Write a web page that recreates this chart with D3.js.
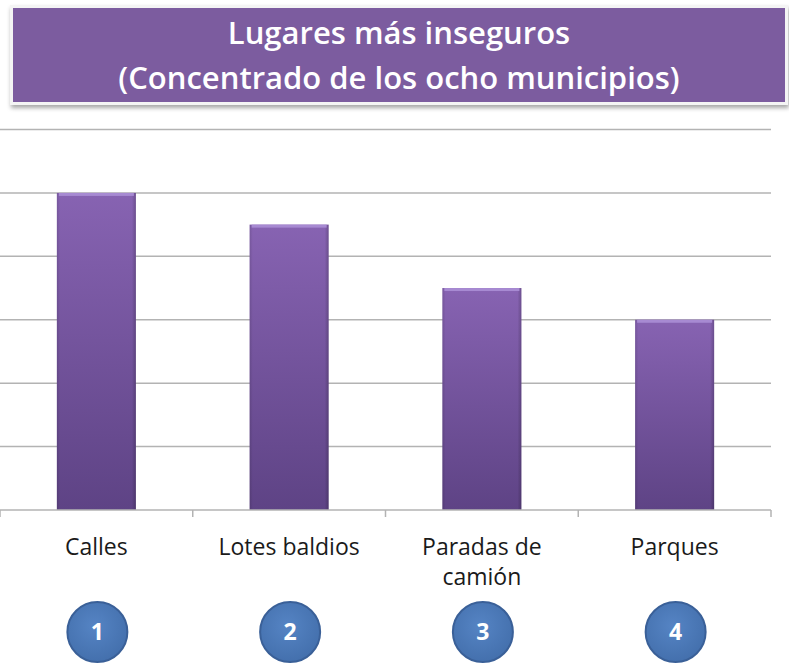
<!DOCTYPE html>
<html>
<head>
<meta charset="utf-8">
<script src="https://cdn.jsdelivr.net/npm/d3@7"></script>
<style>
  body { margin: 0; background: #fff; }
  svg { display: block; }
</style>
</head>
<body>
<div id="chart"></div>
<script>
var categories = [["Calles"], ["Lotes baldios"], ["Paradas de", "camión"], ["Parques"]];
var values = [5, 4.5, 3.5, 3];
var badges = ["1", "2", "3", "4"];
var yTicks = [0, 1, 2, 3, 4, 5, 6];
var titleLines = ["Lugares más inseguros", "(Concentrado de los ocho municipios)"];

var width = 789, height = 665;
var svg = d3.select('#chart').append('svg')
            .attr('width', width).attr('height', height);

var defs = svg.append('defs');
var barGrad = defs.append('linearGradient').attr('id', 'barGrad')
                  .attr('x1', 0).attr('y1', 0).attr('x2', 0).attr('y2', 1);
barGrad.append('stop').attr('offset', '0%').attr('stop-color', '#8763b2');
barGrad.append('stop').attr('offset', '100%').attr('stop-color', '#5e4385');

var edgeGrad = defs.append('linearGradient').attr('id', 'edgeGrad')
                   .attr('x1', 0).attr('y1', 0).attr('x2', 1).attr('y2', 0);
edgeGrad.append('stop').attr('offset', '0%').attr('stop-color', '#000').attr('stop-opacity', 0.12);
edgeGrad.append('stop').attr('offset', '4%').attr('stop-color', '#000').attr('stop-opacity', 0);
edgeGrad.append('stop').attr('offset', '95%').attr('stop-color', '#000').attr('stop-opacity', 0);
edgeGrad.append('stop').attr('offset', '100%').attr('stop-color', '#000').attr('stop-opacity', 0.2);

var circGrad = defs.append('radialGradient').attr('id', 'circGrad')
                   .attr('cx', '45%').attr('cy', '40%').attr('r', '60%');
circGrad.append('stop').attr('offset', '0%').attr('stop-color', '#5584c4');
circGrad.append('stop').attr('offset', '100%').attr('stop-color', '#4470ad');

var shadow = defs.append('filter').attr('id', 'shadow')
                 .attr('x', '-5%').attr('y', '-10%').attr('width', '110%').attr('height', '130%');
shadow.append('feDropShadow').attr('dx', 1).attr('dy', 3).attr('stdDeviation', 2)
      .attr('flood-color', '#000').attr('flood-opacity', 0.35);

// title box
var box = svg.append('g');
box.append('rect')
   .attr('x', 10).attr('y', 5).attr('width', 778).attr('height', 100)
   .attr('fill', '#f4f4f4').attr('filter', 'url(#shadow)');
box.append('rect')
   .attr('x', 13).attr('y', 8).attr('width', 772).attr('height', 94)
   .attr('fill', '#7c5c9f');
box.selectAll('text.title').data(titleLines).enter().append('text')
   .attr('class', 'title')
   .attr('x', 399)
   .attr('y', (d, i) => 44 + i * 45)
   .attr('text-anchor', 'middle')
   .style('font-family', '"Open Sans", sans-serif')
   .style('font-weight', 600)
   .style('font-size', '31px')
   .style('fill', '#fff')
   .text(d => d);

// chart
var x = d3.scaleBand().domain(d3.range(categories.length))
          .range([0, 771]).paddingInner(0.59).paddingOuter(0.295);
var y = d3.scaleLinear().domain([0, 6]).range([510, 129.5]);

svg.append('g').selectAll('line').data(yTicks.slice(1)).enter().append('line')
   .attr('x1', 0).attr('x2', 771)
   .attr('y1', d => y(d)).attr('y2', d => y(d))
   .attr('stroke', '#b3b3b3').attr('stroke-width', 1.5);

var bars = svg.append('g').selectAll('g').data(values).enter().append('g');
bars.append('rect')
    .attr('x', (d, i) => x(i)).attr('y', d => y(d))
    .attr('width', x.bandwidth()).attr('height', d => y(0) - y(d))
    .attr('fill', 'url(#barGrad)');
bars.append('rect')
    .attr('x', (d, i) => x(i)).attr('y', d => y(d))
    .attr('width', x.bandwidth()).attr('height', d => y(0) - y(d))
    .attr('fill', 'url(#edgeGrad)');
bars.append('rect')
    .attr('x', (d, i) => x(i) + 2).attr('y', d => y(d))
    .attr('width', x.bandwidth() - 4).attr('height', 3)
    .attr('fill', '#a78ad2');

// x axis
var xAxis = svg.append('g');
xAxis.append('line').attr('x1', 0).attr('x2', 771)
     .attr('y1', y(0)).attr('y2', y(0))
     .attr('stroke', '#b3b3b3').attr('stroke-width', 1.5);
xAxis.selectAll('line.tick').data(d3.range(categories.length + 1)).enter().append('line')
     .attr('class', 'tick')
     .attr('x1', i => i * x.step()).attr('x2', i => i * x.step())
     .attr('y1', y(0)).attr('y2', y(0) + 7)
     .attr('stroke', '#b3b3b3').attr('stroke-width', 1.5);

var labels = svg.append('g').selectAll('text').data(categories).enter().append('text')
   .attr('x', (d, i) => x(i) + x.bandwidth() / 2)
   .attr('y', 555)
   .attr('text-anchor', 'middle')
   .style('font-family', '"Open Sans", sans-serif')
   .style('font-size', '23px')
   .style('fill', '#1a1a1a');
labels.selectAll('tspan').data(d => d).enter().append('tspan')
   .attr('x', function() { return this.parentNode.getAttribute('x'); })
   .attr('dy', (d, i) => i === 0 ? 0 : 30)
   .text(d => d);

// numbered circles
var badge = svg.append('g').selectAll('g').data(badges).enter().append('g')
   .attr('transform', (d, i) => 'translate(' + (x(i) + x.bandwidth() / 2 + 1) + ',632)');
badge.append('circle').attr('r', 30)
     .attr('fill', 'url(#circGrad)').attr('stroke', '#3a6098').attr('stroke-width', 2);
badge.append('text')
     .attr('text-anchor', 'middle').attr('dy', '0.36em')
     .style('font-family', '"Open Sans", sans-serif')
     .style('font-weight', 'bold').style('font-size', '23px')
     .style('fill', '#fff')
     .text(d => d);
</script>
</body>
</html>
